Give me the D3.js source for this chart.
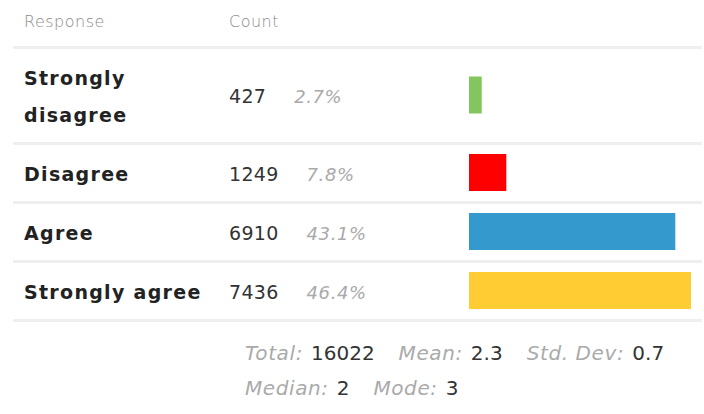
<!DOCTYPE html>
<html>
<head>
<meta charset="utf-8">
<script src="https://cdn.jsdelivr.net/npm/d3@7"></script>
<style>
  body { margin: 0; background: #fff; }
  svg text { font-family: "DejaVu Sans", sans-serif; }
</style>
</head>
<body>
<svg id="chart" width="704" height="414"></svg>
<script>
var responses = ["Strongly disagree", "Disagree", "Agree", "Strongly agree"];
var counts = [427, 1249, 6910, 7436];
var percents = ["2.7%", "7.8%", "43.1%", "46.4%"];
var barColors = ["#83c65d", "#ff0000", "#3499cd", "#ffcc33"];
var headers = ["Response", "Count"];
var statLabels = [["Total:", "Mean:", "Std. Dev:"], ["Median:", "Mode:"]];
var statValues = [["16022", "2.3", "0.7"], ["2", "3"]];

var svg = d3.select("#chart");
var labelX = 24, countX = 229, barX = 469, barMax = 222;
var lineX1 = 13, lineX2 = 702;
var rowPad = 56, lineStep = 37, barH = 37;

var x = d3.scaleLinear()
  .domain([0, d3.max(counts)])
  .range([0, barMax]);

// headers
svg.selectAll("text.header")
  .data(headers)
  .join("text")
  .classed("header", true)
  .attr("x", (d, i) => i == 0 ? labelX : countX)
  .attr("y", 27)
  .style("font-size", "16px")
  .style("font-weight", 200)
  .style("letter-spacing", "0.5px")
  .style("fill", "#8a8a8a")
  .text(d => d);

// split labels into lines that fit the first column
function wrapLabel(label, width) {
  var tmp = svg.append("text")
    .style("font-size", "19px").style("font-weight", "bold")
    .style("letter-spacing", "1.3px");
  var words = label.split(" "), lines = [], cur = "";
  words.forEach(w => {
    var test = cur ? cur + " " + w : w;
    tmp.text(test);
    if (tmp.node().getComputedTextLength() > width && cur) {
      lines.push(cur);
      cur = w;
    } else {
      cur = test;
    }
  });
  lines.push(cur);
  tmp.remove();
  return lines;
}

var rows = [];
var y0 = 49;
responses.forEach((r, i) => {
  var lines = wrapLabel(r, 190);
  var h = rowPad + (lines.length - 1) * lineStep;
  rows.push({label: r, lines: lines, top: y0, h: h, count: counts[i], pct: percents[i], color: barColors[i]});
  y0 += h + 3;
});

// separators
var sepYs = [47.5].concat(rows.map(d => d.top + d.h + 1.5));
svg.selectAll("line.sep")
  .data(sepYs)
  .join("line")
  .classed("sep", true)
  .attr("x1", lineX1).attr("x2", lineX2)
  .attr("y1", d => d).attr("y2", d => d)
  .attr("stroke", "#efefef")
  .attr("stroke-width", 3);

var g = svg.selectAll("g.row")
  .data(rows)
  .join("g")
  .classed("row", true)
  .attr("transform", d => "translate(0," + (d.top + d.h / 2) + ")");

g.append("text")
  .attr("x", labelX)
  .style("font-size", "19px")
  .style("font-weight", "bold")
  .style("letter-spacing", "1.3px")
  .style("fill", "#222")
  .selectAll("tspan")
  .data(d => d.lines.map((l, k) => ({l: l, k: k, n: d.lines.length})))
  .join("tspan")
  .attr("x", labelX)
  .attr("y", d => 7.5 + (d.k - (d.n - 1) / 2) * lineStep)
  .text(d => d.l);

var cnt = g.append("text")
  .attr("x", countX)
  .attr("y", 7.5)
  .style("font-size", "19px")
  .style("letter-spacing", "0.3px")
  .style("fill", "#333")
  .text(d => d.count);

g.append("text")
  .attr("x", function(d, i) { return countX + cnt.nodes()[i].getComputedTextLength() + 28; })
  .attr("y", 7.5)
  .style("font-size", "18px")
  .style("font-style", "italic")
  .style("letter-spacing", "0.6px")
  .style("fill", "#aaa")
  .text(d => d.pct);

g.append("rect")
  .attr("x", barX)
  .attr("y", -barH / 2 - 0.5)
  .attr("width", d => x(d.count))
  .attr("height", barH)
  .attr("fill", d => d.color);

// summary stats
var statY = [360, 395];
statLabels.forEach((labs, li) => {
  var t = svg.append("text")
    .attr("x", 245)
    .attr("y", statY[li])
    .style("font-size", "20px");
  labs.forEach((lab, k) => {
    t.append("tspan")
      .attr("dx", k == 0 ? 0 : 24)
      .style("font-style", "italic")
      .style("letter-spacing", "0.6px")
      .style("fill", "#aaa")
      .text(lab);
    t.append("tspan")
      .attr("dx", 8)
      .style("letter-spacing", "0px")
      .style("fill", "#333")
      .text(statValues[li][k]);
  });
});
</script>
</body>
</html>
